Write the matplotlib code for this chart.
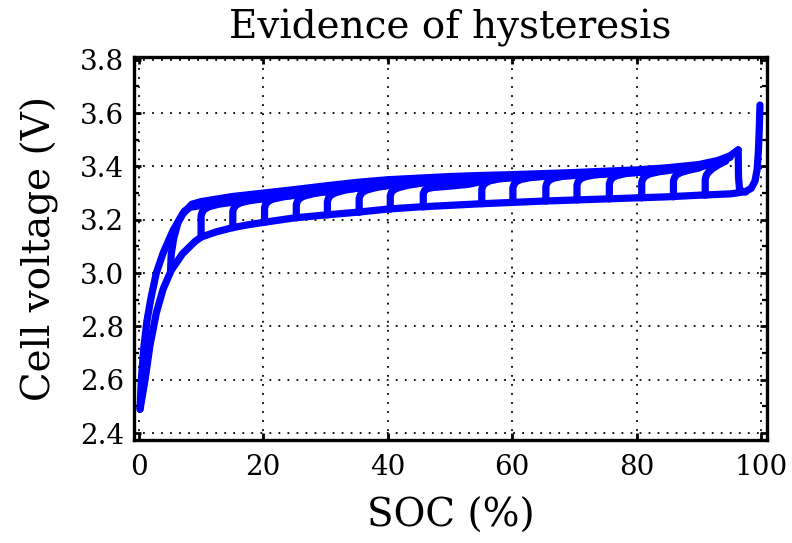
import numpy as np
import matplotlib
matplotlib.use("Agg")
import matplotlib.pyplot as plt

### ==========================================
### DATA
### ==========================================

# charge from 0 % : outer branch, ends at the top peak
top_soc = [0.2, 0.4, 0.8, 1.3, 1.9, 2.8, 3.9, 5.5, 7.0, 8.5, 10, 15, 20, 25, 30, 35, 40,
           45, 50, 55, 60, 65, 70, 75, 80, 85, 90, 93, 95, 96.3]
top_v = [2.49, 2.60, 2.72, 2.82, 2.90, 3.00, 3.075, 3.16, 3.22, 3.258, 3.268, 3.287, 3.300,
         3.313, 3.327, 3.340, 3.350, 3.356, 3.362, 3.366, 3.369, 3.373, 3.377, 3.382, 3.387,
         3.395, 3.407, 3.422, 3.440, 3.462]

# charge branches that settle just under the outer branch
inner_soc = [8.6, 10, 12, 15, 20, 25, 30, 35, 40, 45, 50, 55, 60, 65, 70, 75, 80, 85, 90, 93, 95]
inner_v = [3.248, 3.253, 3.259, 3.266, 3.279, 3.292, 3.305, 3.318, 3.328, 3.336, 3.346,
           3.352, 3.357, 3.362, 3.366, 3.371, 3.377, 3.385, 3.396, 3.414, 3.434]

# discharge branch, from the 100 % spike down to 0 %
low_soc = [99.8, 99.7, 99.55, 99.35, 99.0, 98.4, 97.5, 96.0, 95, 90, 85, 80, 75, 70, 65, 60,
           55, 50, 45, 40, 35, 30, 25, 20, 17.5, 15, 12.5, 10, 9, 7, 5.2, 3.9, 2.8, 1.8, 1.0, 0.2]
low_v = [3.63, 3.55, 3.46, 3.39, 3.345, 3.318, 3.306, 3.300, 3.297, 3.292, 3.286, 3.282,
         3.278, 3.274, 3.270, 3.265, 3.260, 3.254, 3.248, 3.240, 3.228, 3.218, 3.207, 3.190,
         3.181, 3.170, 3.155, 3.135, 3.118, 3.072, 3.01, 2.94, 2.85, 2.73, 2.60, 2.49]

# relaxation drop after the top peak
drop_soc = [96.3, 96.35, 96.5, 96.9, 97.5]
drop_v = [3.462, 3.36, 3.318, 3.305, 3.304]

# partial charge hooks, one per starting SOC
hook_start = [5, 10, 15, 20, 25, 30, 35, 40, 45, 55, 60, 65, 70, 75, 80, 85, 90]
hook_soc = [
    [5.1, 5.2, 5.6, 6.3, 7.3, 8.6],
    [10.0, 10.0, 10.2, 10.6, 11.3, 12.8, 15.0],
    [15.1, 15.1, 15.3, 15.7, 16.4, 17.9, 20.0],
    [20.2, 20.2, 20.4, 20.8, 21.5, 23.0, 25.0],
    [25.3, 25.3, 25.5, 25.9, 26.6, 28.1, 30.0],
    [30.3, 30.3, 30.5, 30.9, 31.6, 33.1, 35.0],
    [35.4, 35.4, 35.6, 36.0, 36.7, 38.2, 40.0],
    [40.4, 40.4, 40.6, 41.0, 41.7, 43.2, 45.0],
    [45.7, 45.7, 45.9, 46.4, 47.3, 50.0, 53.0, 55.5, 57.5],
    [55.1, 55.1, 55.3, 55.7, 56.4, 57.9, 59.5],
    [60.1, 60.1, 60.3, 60.7, 61.4, 62.9, 64.5],
    [65.4, 65.4, 65.6, 66.0, 66.7, 68.2, 69.8],
    [70.4, 70.4, 70.6, 71.0, 71.7, 73.2, 74.8],
    [75.6, 75.6, 75.8, 76.2, 76.9, 78.4, 80.0],
    [80.8, 80.8, 81.0, 81.4, 82.1, 83.6, 85.2],
    [85.9, 85.9, 86.1, 86.5, 87.2, 88.6, 90.0],
    [91.0, 91.0, 91.2, 91.6, 92.2, 93.2, 94.3],
]
hook_v = [
    [3.01, 3.07, 3.13, 3.19, 3.232, 3.252],
    [3.135, 3.215, 3.230, 3.240, 3.249, 3.258, 3.266],
    [3.170, 3.232, 3.246, 3.256, 3.264, 3.272, 3.279],
    [3.190, 3.245, 3.259, 3.269, 3.277, 3.285, 3.292],
    [3.207, 3.257, 3.271, 3.281, 3.289, 3.298, 3.305],
    [3.218, 3.268, 3.283, 3.293, 3.301, 3.311, 3.318],
    [3.228, 3.280, 3.294, 3.304, 3.312, 3.321, 3.328],
    [3.240, 3.290, 3.304, 3.313, 3.320, 3.329, 3.336],
    [3.248, 3.298, 3.310, 3.317, 3.321, 3.326, 3.333, 3.345, 3.355],
    [3.260, 3.314, 3.328, 3.338, 3.346, 3.353, 3.357],
    [3.265, 3.320, 3.334, 3.344, 3.351, 3.358, 3.362],
    [3.270, 3.325, 3.339, 3.349, 3.356, 3.363, 3.366],
    [3.274, 3.330, 3.344, 3.354, 3.361, 3.368, 3.371],
    [3.278, 3.335, 3.349, 3.359, 3.366, 3.374, 3.377],
    [3.282, 3.340, 3.354, 3.364, 3.372, 3.380, 3.385],
    [3.286, 3.346, 3.360, 3.370, 3.378, 3.387, 3.394],
    [3.292, 3.352, 3.368, 3.380, 3.392, 3.407, 3.420],
]

x_ticks = [0, 20, 40, 60, 80, 100]
y_ticks = [2.4, 2.6, 2.8, 3.0, 3.2, 3.4, 3.6, 3.8]

### ==========================================

BLEU = (0, 0, 1)
LW = 5.2
POLICE = "DejaVu Serif"


def tracer():
    plt.rcParams['font.family'] = [POLICE, 'DejaVu Sans']
    fig = plt.figure(figsize=(7.92, 5.43), dpi=100, facecolor='white')
    ax = fig.add_axes([0.169, 0.190, 0.800, 0.705])

    style = dict(color=BLEU, linewidth=LW, solid_joinstyle='round', solid_capstyle='round')

    ax.plot(top_soc, top_v, **style)
    ax.plot(inner_soc, inner_v, **style)
    ax.plot(low_soc, low_v, **style)
    ax.plot(drop_soc, drop_v, **style)
    for s, v in zip(hook_soc, hook_v):
        ax.plot(s, v, **style)

    ax.set_xlim(-0.8, 101.0)
    ax.set_ylim(2.375, 3.81)
    ax.set_xticks(x_ticks)
    ax.set_yticks(y_ticks)
    ax.set_yticks(np.arange(2.5, 3.8, 0.2), minor=True)
    ax.set_xticklabels([str(t) for t in x_ticks])
    ax.set_yticklabels([f"{t:.1f}" for t in y_ticks])

    # MATLAB-like box: inward ticks on all four sides
    ax.tick_params(which='major', direction='in', length=5, width=2,
                   top=True, right=True, labelsize=20, pad=7)
    ax.tick_params(axis='x', which='major', pad=10)
    ax.tick_params(which='minor', direction='in', length=3.5, width=1.6,
                   top=True, right=True)
    for sp in ax.spines.values():
        sp.set_linewidth(2.4)

    ax.grid(True, which='major', color='black', linestyle=(0, (1, 4)), linewidth=1.3)
    ax.set_axisbelow(True)

    ax.set_title("Evidence of hysteresis", fontsize=28, pad=13)
    ax.set_xlabel("SOC (%)", fontsize=28, labelpad=12)
    ax.set_ylabel("Cell voltage (V)", fontsize=28, labelpad=15)

    fig.savefig("out.png", dpi=100, facecolor='white')


if __name__ == "__main__":
    tracer()
